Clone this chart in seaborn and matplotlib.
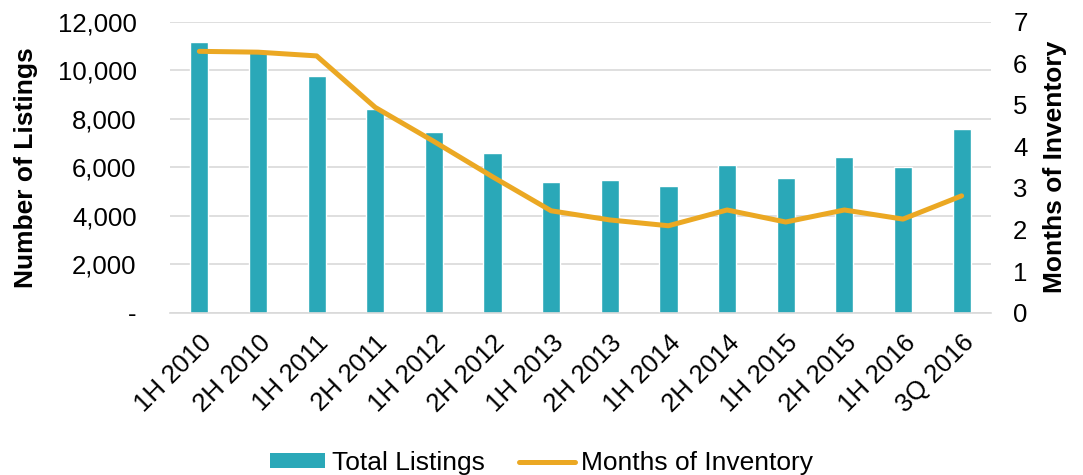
import matplotlib.pyplot as plt
import seaborn as sns
import pandas as pd
import numpy as np
from matplotlib.lines import Line2D
from matplotlib.patches import Patch
from matplotlib.ticker import FuncFormatter

periods = ["1H 2010", "2H 2010", "1H 2011", "2H 2011", "1H 2012", "2H 2012", "1H 2013",
           "2H 2013", "1H 2014", "2H 2014", "1H 2015", "2H 2015", "1H 2016", "3Q 2016"]
total_listings = [11160, 10750, 9760, 8390, 7450, 6600, 5400,
                  5470, 5240, 6080, 5555, 6420, 6010, 7590]
months_inventory = [6.29, 6.27, 6.18, 4.94, 4.12, 3.27, 2.45,
                    2.23, 2.09, 2.47, 2.18, 2.47, 2.25, 2.81]

bar_color = "#2AA8B8"
line_color = "#EBA823"

df = pd.DataFrame({
    "period": periods,
    "listings": total_listings,
    "months": months_inventory,
    "pos": np.arange(len(periods)),
})

sns.set_theme(style="white")
plt.rcParams["font.family"] = ["Liberation Sans", "DejaVu Sans"]
plt.rcParams["text.color"] = "black"
plt.rcParams["xtick.color"] = "black"
plt.rcParams["ytick.color"] = "black"
plt.rcParams["axes.labelcolor"] = "black"

fig = plt.figure(figsize=(10.83, 4.75), dpi=100)
ax = fig.add_axes([0.157, 0.342, 0.758, 0.612])

sns.barplot(data=df, x="period", y="listings", color=bar_color,
            width=0.31, saturation=1, ax=ax, zorder=2)
ax.set_xlim(-0.5, len(periods) - 0.5)
ax.set_ylim(0, 12000)
ax.set_yticks(range(0, 12001, 2000))
ax.yaxis.set_major_formatter(FuncFormatter(lambda v, p: "-" if v == 0 else f"{int(v):,}"))
ax.grid(axis="y", color="#D9D9D9", linewidth=1.2, zorder=0)
ax.set_axisbelow(True)
for s in ["top", "left", "right"]:
    ax.spines[s].set_visible(False)
ax.spines["bottom"].set_color("#D9D9D9")
ax.spines["bottom"].set_linewidth(1.2)
ax.tick_params(axis="y", labelsize=18.5, length=0, pad=24)
ax.tick_params(axis="x", labelsize=18.5, length=0, pad=13)
plt.setp(ax.get_xticklabels(), rotation=45, ha="right", rotation_mode="anchor")
ax.set_xlabel("")
ax.set_ylabel("Number of Listings", fontsize=19, fontweight="bold", labelpad=14)

ax2 = ax.twinx()
sns.lineplot(data=df, x="pos", y="months", color=line_color, linewidth=3.6,
             ax=ax2, zorder=3)
ax2.set_ylim(0, 7)
ax2.set_yticks(range(0, 8))
ax2.set_xlim(-0.5, len(periods) - 0.5)
for s in ["top", "left", "right", "bottom"]:
    ax2.spines[s].set_visible(False)
ax2.tick_params(axis="y", labelsize=18.5, length=0, pad=16)
ax2.set_ylabel("Months of Inventory", fontsize=19, fontweight="bold", labelpad=11)
ax2.set_xlabel("")

handles = [Patch(facecolor=bar_color, edgecolor="none"),
           Line2D([0], [0], color=line_color, linewidth=3.6)]
fig.legend(handles, ["Total Listings", "Months of Inventory"], loc="lower center",
           bbox_to_anchor=(0.5, -0.05), ncol=2, frameon=False, fontsize=19,
           handlelength=2.1, handleheight=0.5, handletextpad=0.25, columnspacing=1.3)

plt.savefig("out.png", dpi=100)
plt.close()
